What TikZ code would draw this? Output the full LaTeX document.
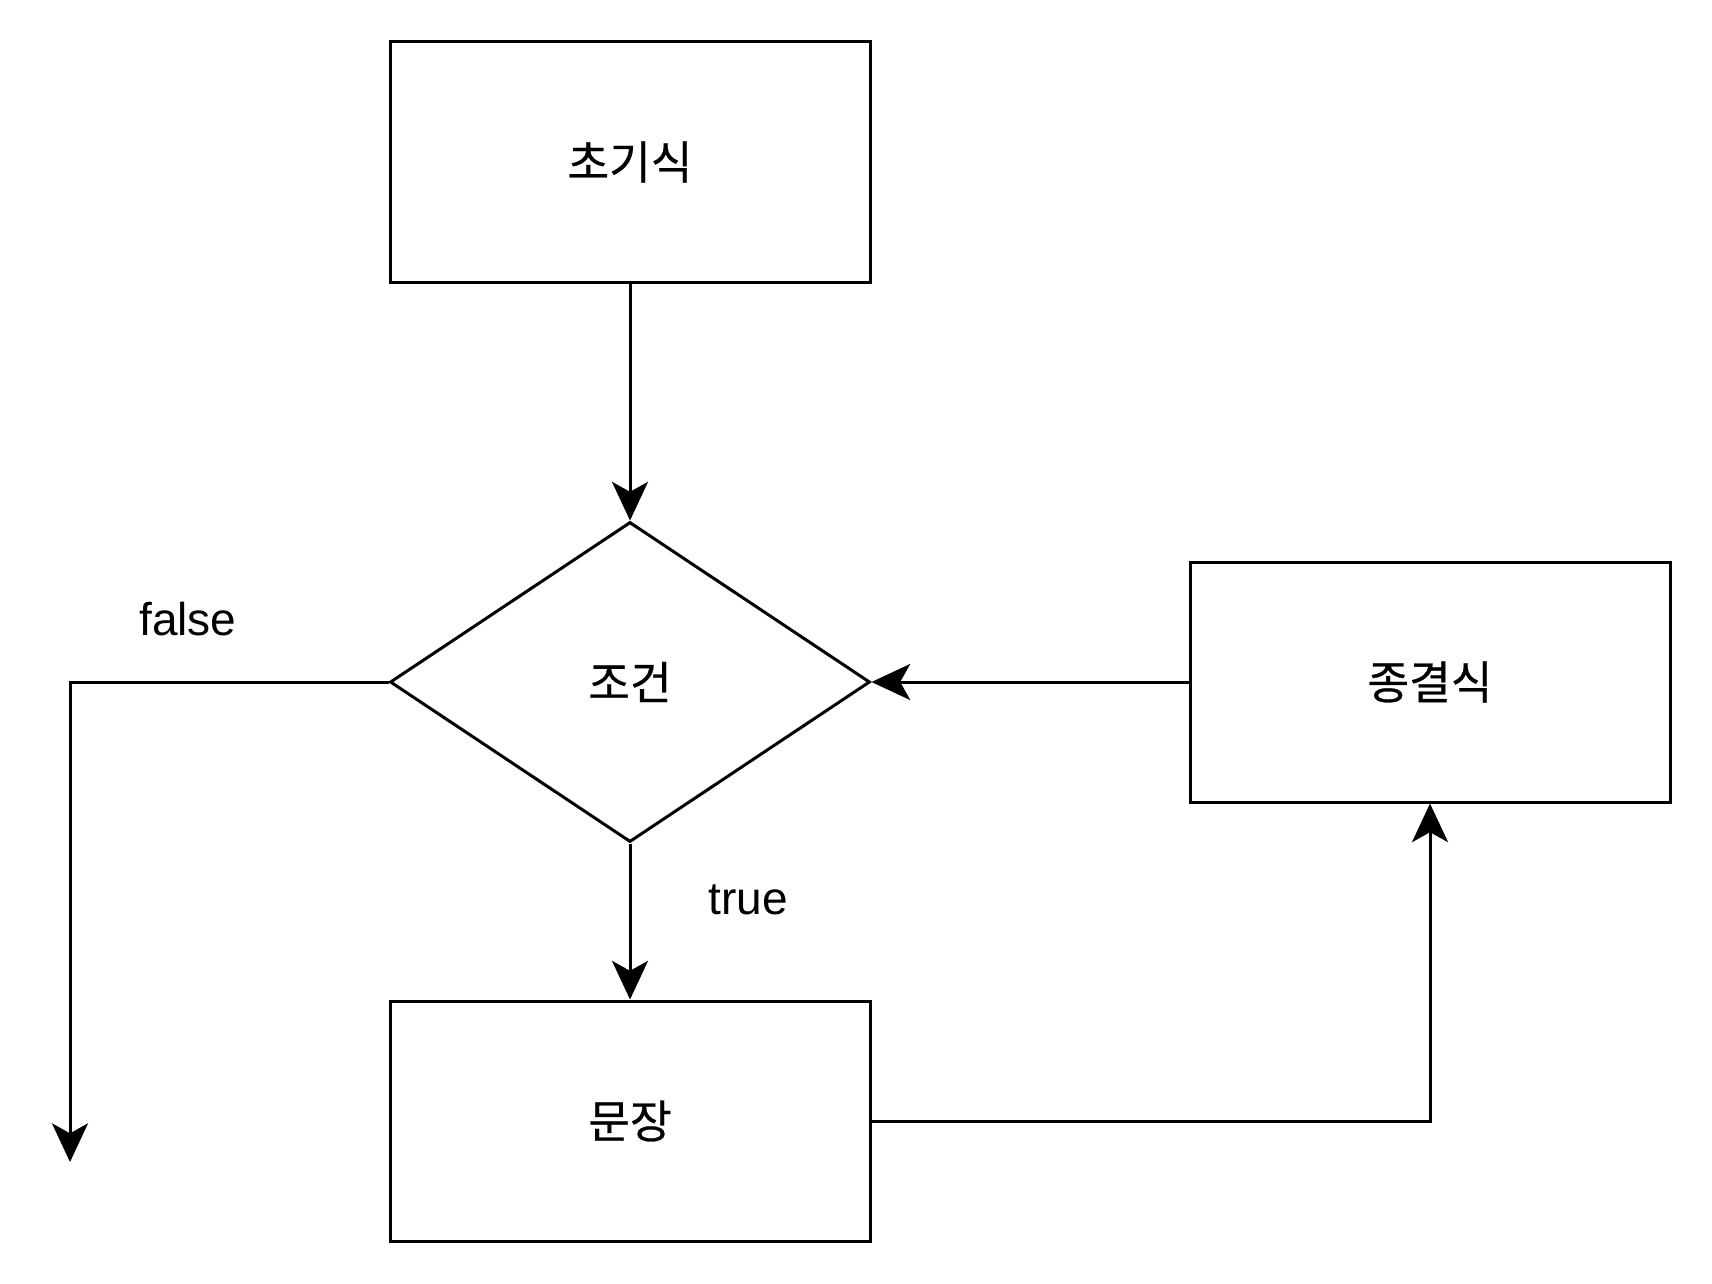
\documentclass[tikz,border=0pt]{standalone}
\usepackage{fontspec}
\setmainfont{Liberation Sans}
\newfontfamily\kr[FakeBold=0.6]{Noto Sans CJK KR}
\usetikzlibrary{shapes.geometric,arrows.meta}
\begin{document}
\begin{tikzpicture}[x=0.75pt,y=-0.75pt,
  line width=2.25pt,
  box/.style={draw,rectangle,minimum width=360pt,minimum height=180pt,inner sep=0pt,font=\kr\fontsize{34pt}{40pt}\selectfont},
  cond/.style={draw,diamond,minimum width=360pt,minimum height=240pt,inner sep=0pt,font=\kr\fontsize{34pt}{40pt}\selectfont},
  lbl/.style={font=\fontsize{34.5pt}{40pt}\selectfont},
  arr/.style={-{Stealth[length=29pt,width=27pt,inset=7.5pt]}}]
\useasboundingbox (0,0) rectangle (1712,1284);
\node[box] (init) at (630,162) {초기식};
\node[cond] (cond) at (630,682) {조건};
\node[box] (step) at (1430,682) {종결식};
\node[box] (body) at (630,1121) {문장};
\coordinate (exit) at (70,1162);
\node[lbl] (false) at (188,619) {false};
\node[lbl] (true) at (748,900) {true};
\draw[arr] (init) -- (cond.north);
\draw[arr] (cond.south) -- (body.north);
\draw[arr] (cond.west) -| (exit);
\draw[arr] (body.east) -| (step.south);
\draw[arr] (step.west) -- (cond.east);
\end{tikzpicture}
\end{document}
